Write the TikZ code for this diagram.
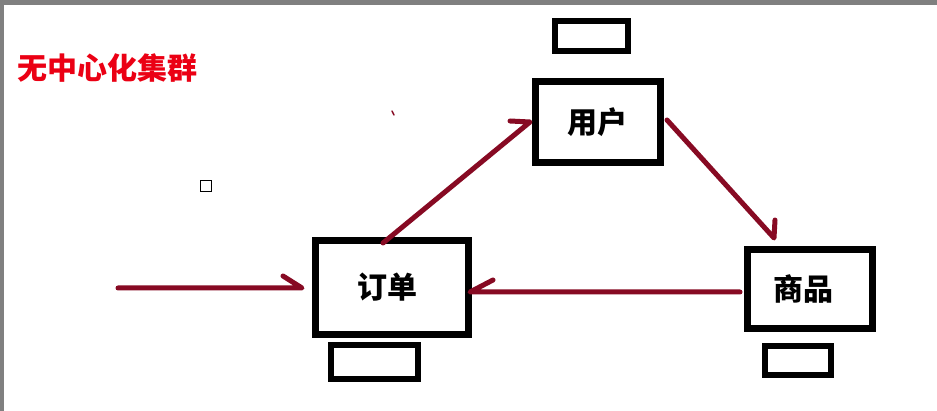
\documentclass[tikz,border=0pt]{standalone}
\usepackage{fontspec}
\newfontfamily\cjk{Noto Sans CJK SC}
\usetikzlibrary{calc}
\definecolor{conncol}{RGB}{135,10,35}
\definecolor{framegray}{RGB}{128,128,128}
\definecolor{titlered}{RGB}{235,0,20}
\tikzset{
  mainbox/.style={draw=black, line width=7pt, rectangle, inner sep=0pt,
    font=\cjk\bfseries\fontsize{30}{30}\selectfont},
  subbox/.style={draw=black, line width=6.5pt, rectangle, inner sep=0pt},
  conn/.style={draw=conncol, line width=5pt, line cap=round, line join=round},
}
\begin{document}
\begin{tikzpicture}[x=1pt, y=-1pt]
  \useasboundingbox (0,0) rectangle (937,411);
  \fill[white] (0,0) rectangle (937,411);
  % frame edges of the screenshot
  \fill[framegray] (0,0) rectangle (937,5);
  \fill[framegray] (0,0) rectangle (4,411);

  % title
  \node[text=titlered, font=\cjk\bfseries\fontsize{30}{30}\selectfont, inner sep=0pt] (title) at (107,68) {无中心化集群};

  % small square mark
  \node[draw=black, line width=1.4pt, minimum width=11pt, minimum height=11pt, inner sep=0pt] (mark) at (206,186) {};

  % main boxes
  \node[mainbox, minimum width=153pt, minimum height=94pt] (order) at (392,287.5) {\hspace*{-10pt}订单};
  \node[mainbox, minimum width=125pt, minimum height=81pt] (user) at (598,122) {\hspace*{-2pt}用户};
  \node[mainbox, minimum width=125pt, minimum height=79pt] (goods) at (810,289) {\hspace*{-14pt}\raisebox{-12pt}{商品}};

  % small boxes
  \node[subbox, minimum width=87pt, minimum height=34pt] (ordersub) at (374.5,362) {};
  \node[subbox, minimum width=73pt, minimum height=30pt] (usersub) at (591.5,36) {};
  \node[subbox, minimum width=66pt, minimum height=29pt] (goodssub) at (798,360.5) {};

  % connectors
  \coordinate (src) at (118,288);
  \draw[conn] (src) -- ($(order.west)+(-10,0.5)$) -- ++(-19,-12);
  \draw[conn] ($(goods.west)+(-4,3)$) -- ($(order.east)+(-2,4.5)$) -- ++(23,-12);
  \draw[conn] ($(order.north)+(-9,6)$) -- ($(user.west)+(-2,0)$) -- ++(-20,-1);
  \draw[conn] ($(user.east)+(3,-2)$) -- ($(goods.north)+(-36,-8)$) -- ++(1,-18);

  % tiny stray stroke
  \draw[conncol, line width=1.5pt, line cap=round] (392,111) -- (394,115);
\end{tikzpicture}
\end{document}
